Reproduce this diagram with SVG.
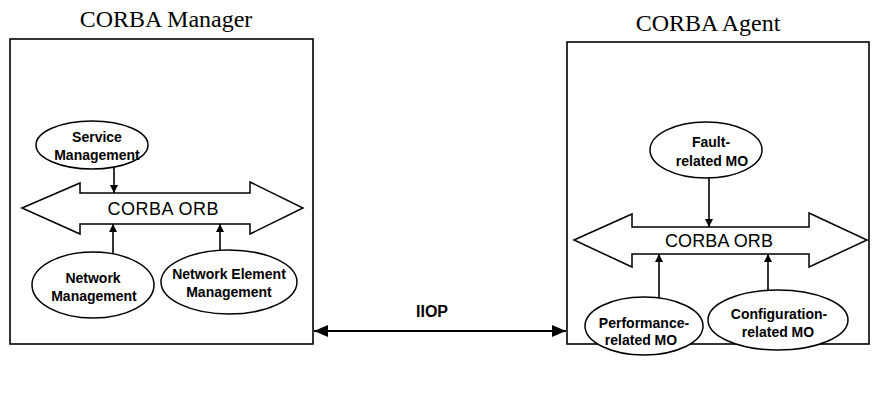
<svg xmlns="http://www.w3.org/2000/svg" width="872" height="394" viewBox="0 0 872 394">
  <style>
    .frame { fill: none; stroke: #000; stroke-width: 1.6; }
    .orb { fill: #fff; stroke: #000; stroke-width: 1.5; stroke-linejoin: miter; }
    .obj { fill: #fff; stroke: #000; stroke-width: 1.5; }
    .title { font-family: "Liberation Serif", serif; font-size: 24px; fill: #000; text-anchor: middle; }
    .orbtext { font-family: "Liberation Sans", Arial, sans-serif; font-size: 18px; fill: #000; text-anchor: middle; }
    .lbl { font-family: "Liberation Sans", Arial, sans-serif; font-size: 14px; font-weight: bold; fill: #000; text-anchor: middle; }
    .link { stroke: #000; stroke-width: 1.6; fill: none; }
    .iiop { stroke: #000; stroke-width: 2.2; fill: none; }
  </style>
  <defs>
    <marker id="tip" markerUnits="userSpaceOnUse" markerWidth="9" markerHeight="8" refX="8" refY="4" orient="auto">
      <path d="M0,0 L8,4 L0,8 Z" fill="#000"/>
    </marker>
    <marker id="bigtip" markerUnits="userSpaceOnUse" markerWidth="15" markerHeight="12" refX="14" refY="6" orient="auto-start-reverse">
      <path d="M0,0 L14,6 L0,12 Z" fill="#000"/>
    </marker>
  </defs>

  <rect width="872" height="394" fill="#fff"/>

  <!-- Manager side -->
  <g id="manager">
    <text class="title" x="166" y="27">CORBA Manager</text>
    <rect class="frame" x="10" y="39" width="303" height="305"/>
  </g>

  <g id="orb-manager">
    <polygon class="orb" points="22,208 80,183 80,193 250,193 250,182 303,208 250,234 250,224 80,224 80,234"/>
    <text class="orbtext" x="163" y="215" textLength="111" lengthAdjust="spacing">CORBA ORB</text>
  </g>

  <g id="service-management">
    <ellipse class="obj" cx="92" cy="145" rx="56" ry="24"/>
    <text class="lbl" x="97" y="142">Service</text>
    <text class="lbl" x="97" y="160">Management</text>
  </g>

  <g id="network-management">
    <ellipse class="obj" cx="93" cy="285" rx="61" ry="33"/>
    <text class="lbl" x="93" y="283">Network</text>
    <text class="lbl" x="94" y="301">Management</text>
  </g>

  <g id="network-element-management">
    <ellipse class="obj" cx="229" cy="282" rx="68" ry="32"/>
    <text class="lbl" x="229" y="279">Network Element</text>
    <text class="lbl" x="229" y="297">Management</text>
  </g>

  <!-- Agent side -->
  <g id="agent">
    <text class="title" x="708" y="31">CORBA Agent</text>
    <rect class="frame" x="567" y="42" width="302" height="302"/>
  </g>

  <g id="orb-agent">
    <polygon class="orb" points="574,240 632,214 632,227 809,227 809,213 867,240 809,267 809,254 632,254 632,267"/>
    <text class="orbtext" x="719" y="247" textLength="108" lengthAdjust="spacing">CORBA ORB</text>
  </g>

  <g id="fault-mo">
    <ellipse class="obj" cx="706" cy="150" rx="56" ry="28"/>
    <text class="lbl" x="711" y="147">Fault-</text>
    <text class="lbl" x="712" y="166">related MO</text>
  </g>

  <g id="performance-mo">
    <ellipse class="obj" cx="644" cy="326" rx="59" ry="29"/>
    <text class="lbl" x="644" y="328">Performance-</text>
    <text class="lbl" x="641" y="345">related MO</text>
  </g>

  <g id="configuration-mo">
    <ellipse class="obj" cx="778" cy="320" rx="70" ry="30"/>
    <text class="lbl" x="779" y="319">Configuration-</text>
    <text class="lbl" x="778" y="337">related MO</text>
  </g>

  <!-- Connectors -->
  <g id="connectors">
    <line class="link" x1="114" y1="168" x2="114" y2="193" marker-end="url(#tip)"/>
    <line class="link" x1="113" y1="254" x2="113" y2="224" marker-end="url(#tip)"/>
    <line class="link" x1="220" y1="250" x2="220" y2="224" marker-end="url(#tip)"/>
    <line class="link" x1="709" y1="178" x2="709" y2="227" marker-end="url(#tip)"/>
    <line class="link" x1="659" y1="298" x2="659" y2="254" marker-end="url(#tip)"/>
    <line class="link" x1="768" y1="290" x2="768" y2="254" marker-end="url(#tip)"/>
    <line class="iiop" x1="314" y1="331" x2="566" y2="331" marker-start="url(#bigtip)" marker-end="url(#bigtip)"/>
    <text class="lbl" x="432" y="317" style="font-size:16px">IIOP</text>
  </g>
</svg>
